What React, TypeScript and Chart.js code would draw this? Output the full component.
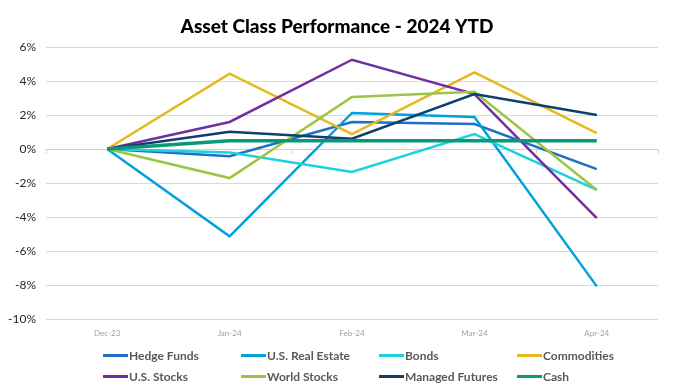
import React, { useEffect, useRef } from "react";
import { Chart, registerables } from "chart.js";

Chart.register(...registerables);

const TITLE = "Asset Class Performance - 2024 YTD";
const months = ["Dec-23", "Jan-24", "Feb-24", "Mar-24", "Apr-24"];

const hedgeFunds = [0, -0.43, 1.59, 1.47, -1.18];
const usRealEstate = [0, -5.14, 2.12, 1.88, -8.08];
const bonds = [0, -0.2, -1.35, 0.88, -2.41];
const commodities = [0, 4.43, 0.88, 4.51, 0.94];
const usStocks = [0, 1.59, 5.25, 3.23, -4.06];
const worldStocks = [0, -1.71, 3.06, 3.37, -2.41];
const managedFutures = [0, 1.02, 0.61, 3.23, 2.0];
const cash = [0, 0.48, 0.48, 0.48, 0.48];

const seriesNames = [
  "Hedge Funds",
  "U.S. Real Estate",
  "Bonds",
  "Commodities",
  "U.S. Stocks",
  "World Stocks",
  "Managed Futures",
  "Cash",
];
const seriesData = [hedgeFunds, usRealEstate, bonds, commodities, usStocks, worldStocks, managedFutures, cash];
const seriesColors = ["#1F6FC4", "#00A1DC", "#1ED2DC", "#E7B81C", "#7030A0", "#9DC545", "#0D3F6F", "#089A78"];
const seriesWidths = [2.5, 2.5, 2.5, 2.5, 2.5, 2.5, 2.5, 3.5];

const FONT = "Lato, 'Open Sans', sans-serif";

const titlePlugin = {
  id: "centerTitle",
  afterDraw(chart: any) {
    const ctx = chart.ctx;
    ctx.save();
    ctx.fillStyle = "#000000";
    ctx.font = `900 19px ${FONT}`;
    ctx.textAlign = "center";
    ctx.textBaseline = "alphabetic";
    ctx.fillText(TITLE, chart.width / 2, 33);
    ctx.restore();
  },
};

const legendPlugin = {
  id: "gridLegend",
  afterDraw(chart: any) {
    const ctx = chart.ctx;
    const colX = [103, 241, 379, 517];
    const rowY = [355.5, 376.5];
    ctx.save();
    seriesNames.forEach((name, i) => {
      const x = colX[i % 4];
      const y = rowY[Math.floor(i / 4)];
      ctx.strokeStyle = seriesColors[i];
      ctx.lineWidth = 3;
      ctx.beginPath();
      ctx.moveTo(x, y);
      ctx.lineTo(x + 25, y);
      ctx.stroke();
      ctx.fillStyle = "#595959";
      ctx.font = `bold 12px ${FONT}`;
      ctx.textBaseline = "middle";
      ctx.textAlign = "left";
      ctx.fillText(name, x + 26, y + 0.5);
    });
    ctx.restore();
  },
};

const zeroAxisPlugin = {
  id: "zeroAxis",
  beforeDatasetsDraw(chart: any) {
    const ctx = chart.ctx;
    const xs = chart.scales.x;
    const ys = chart.scales.y;
    const y0 = Math.round(ys.getPixelForValue(0)) + 0.5;
    ctx.save();
    ctx.strokeStyle = "#D0D0D0";
    ctx.lineWidth = 1;
    ctx.beginPath();
    ctx.moveTo(chart.chartArea.left, y0);
    ctx.lineTo(chart.chartArea.right, y0);
    const n = months.length;
    const step = (xs.getPixelForValue(n - 1) - xs.getPixelForValue(0)) / (n - 1);
    for (let i = 0; i <= n; i++) {
      const px = Math.round(xs.getPixelForValue(0) - step / 2 + i * step) + 0.5;
      ctx.moveTo(px, y0);
      ctx.lineTo(px, y0 + 4);
    }
    ctx.stroke();
    ctx.restore();
  },
};

export default function App() {
  const ref = useRef<HTMLCanvasElement | null>(null);
  useEffect(() => {
    if (!ref.current) return;
    const chart = new Chart(ref.current, {
      type: "line",
      data: {
        labels: months,
        datasets: seriesNames.map((name, i) => ({
          label: name,
          data: seriesData[i],
          borderColor: seriesColors[i],
          backgroundColor: seriesColors[i],
          borderWidth: seriesWidths[i],
          pointRadius: 0,
          tension: 0,
          fill: false,
          order: 8 - i,
        })),
      },
      options: {
        animation: false,
        responsive: true,
        maintainAspectRatio: false,
        layout: { padding: { left: 0, right: 16, top: 47, bottom: 46 } },
        plugins: {
          legend: { display: false },
          tooltip: { enabled: false },
          title: { display: false },
        },
        scales: {
          x: {
            offset: true,
            grid: { display: false, drawTicks: false },
            border: { display: false },
            ticks: { color: "#A0A0A0", font: { family: FONT, size: 8 }, padding: 10, maxRotation: 0 },
            afterFit: (s: any) => {
              s.height = 20;
            },
          },
          y: {
            min: -10,
            max: 6,
            grid: { color: "#D9D9D9", lineWidth: 1, drawTicks: false },
            border: { display: false },
            ticks: {
              stepSize: 2,
              color: "#262626",
              font: { family: FONT, size: 12 },
              padding: 10,
              callback: (v: any) => `${v}%`,
            },
            afterFit: (s: any) => {
              s.width = 46;
            },
          },
        },
      },
      plugins: [zeroAxisPlugin, legendPlugin, titlePlugin],
    });
    return () => chart.destroy();
  }, []);
  return (
    <div style={{ position: "absolute", left: 0, top: 0, width: 674, height: 385, background: "#fff" }}>
      <canvas ref={ref} />
    </div>
  );
}
